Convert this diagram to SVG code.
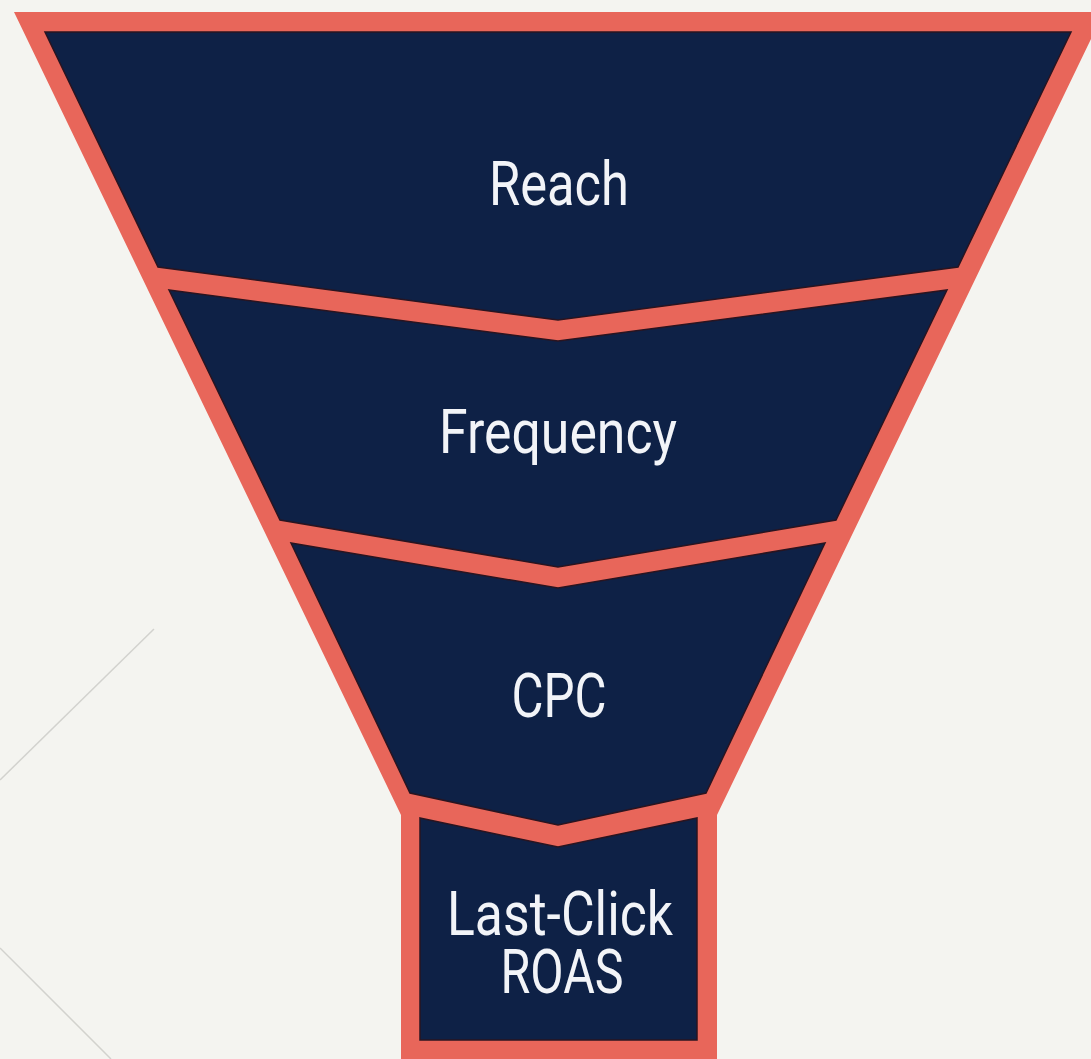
<svg xmlns="http://www.w3.org/2000/svg" width="1091" height="1059" viewBox="0 0 1091 1059">
  <style>
    .seg { fill: #0E2146; stroke: #2a1420; stroke-width: 1.5; stroke-linejoin: miter; }
    .lbl { font-family: Roboto, "Liberation Sans", sans-serif; font-size: 62px; fill: #F2F4F8; text-anchor: middle; }
    .deco { stroke: #D2D2CE; stroke-width: 1.5; fill: none; }
  </style>
  <rect x="0" y="0" width="1091" height="1059" fill="#F4F4F0"/>
  <g id="decor">
    <line class="deco" x1="0" y1="780" x2="154" y2="629"/>
    <line class="deco" x1="0" y1="948" x2="111" y2="1059"/>
  </g>
  <g id="funnel-frame">
    <polygon points="14,12 1104,12 717,815 717,1070 401,1070 401,815" fill="#E8665A"/>
  </g>
  <g id="connectors"></g>
  <g id="node-reach">
    <polygon class="seg" points="45,32 1071,32 958,267 558,320 158,267"/>
    <text class="lbl" x="559" y="205" textLength="140" lengthAdjust="spacingAndGlyphs">Reach</text>
  </g>
  <g id="node-frequency">
    <polygon class="seg" points="169,290 558,341 947,290 836,520 558,567 280,520"/>
    <text class="lbl" x="558" y="453" textLength="238" lengthAdjust="spacingAndGlyphs">Frequency</text>
  </g>
  <g id="node-cpc">
    <polygon class="seg" points="291,543 558,588 825,543 706,793 558,825 410,793"/>
    <text class="lbl" x="559" y="717" textLength="95" lengthAdjust="spacingAndGlyphs">CPC</text>
  </g>
  <g id="node-roas">
    <polygon class="seg" points="420,818 558,847 697,818 697,1040 420,1040"/>
    <text class="lbl" x="560" y="935" textLength="226" lengthAdjust="spacingAndGlyphs">Last-Click</text>
    <text class="lbl" x="562" y="993" textLength="123" lengthAdjust="spacingAndGlyphs">ROAS</text>
  </g>
</svg>
